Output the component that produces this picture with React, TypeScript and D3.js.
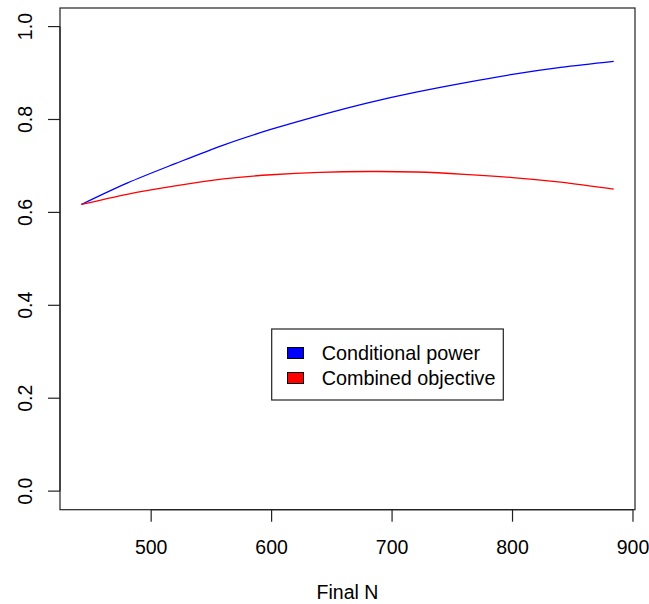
import React from "react";
import * as d3 from "d3";

// Final sample sizes evaluated
const finalN = [442, 480, 520, 560, 600, 640, 680, 720, 760, 800, 840, 884];
// Conditional power at each final N
const conditionalPower = [0.617, 0.663, 0.705, 0.745, 0.779, 0.809, 0.836, 0.859, 0.879, 0.897, 0.912, 0.925];
// Combined objective (power minus sample-size penalty)
const combinedObjective = [0.617, 0.639, 0.657, 0.672, 0.681, 0.686, 0.688, 0.687, 0.682, 0.675, 0.665, 0.65];

const xTicks = [500, 600, 700, 800, 900];
const yTicks = [0, 0.2, 0.4, 0.6, 0.8, 1.0];
const legendLabels = ["Conditional power", "Combined objective"];
const seriesColors = ["#0000ff", "#ff0000"];

const W = 649;
const H = 604;
const plot = { left: 60, right: 635, top: 8, bottom: 509.7 };
const FONT = "'Liberation Sans', Arial, Helvetica, sans-serif";
const FS = 19.5;

export default function App() {
  const xMin = d3.min(finalN)!;
  const xMax = d3.max(finalN)!;
  const xPad = (xMax - xMin) * 0.04;
  const x = d3.scaleLinear().domain([xMin - xPad, xMax + xPad]).range([plot.left, plot.right]);
  const y = d3.scaleLinear().domain([-0.04, 1.04]).range([plot.bottom, plot.top]);

  const line = d3
    .line<number>()
    .x((_, i) => x(finalN[i]))
    .y((d) => y(d))
    .curve(d3.curveNatural);

  const series = [conditionalPower, combinedObjective];

  const legend = { x: 271.7, y: 329, w: 231.6, h: 71 };

  return (
    <svg
      width={W}
      height={H}
      style={{ position: "absolute", left: 0, top: 0, background: "#fff", display: "block" }}
      fontFamily={FONT}
    >
      <rect x={0} y={0} width={W} height={H} fill="#fff" />
      {series.map((s, k) => (
        <path key={k} d={line(s) ?? ""} fill="none" stroke={seriesColors[k]} strokeWidth={1.3} />
      ))}
      <rect
        x={plot.left}
        y={plot.top}
        width={plot.right - plot.left}
        height={plot.bottom - plot.top}
        fill="none"
        stroke="#222"
        strokeWidth={1.2}
      />
      {/* x axis */}
      <line x1={x(xTicks[0])} x2={x(xTicks[xTicks.length - 1])} y1={plot.bottom} y2={plot.bottom} stroke="#222" strokeWidth={1.2} />
      {xTicks.map((t) => (
        <g key={t}>
          <line x1={x(t)} x2={x(t)} y1={plot.bottom} y2={plot.bottom + 12} stroke="#222" strokeWidth={1.2} />
          <text x={x(t)} y={554} textAnchor="middle" fontSize={FS} fill="#000">
            {t}
          </text>
        </g>
      ))}
      {/* y axis */}
      <line x1={plot.left} x2={plot.left} y1={y(yTicks[0])} y2={y(yTicks[yTicks.length - 1])} stroke="#222" strokeWidth={1.2} />
      {yTicks.map((t) => (
        <g key={t}>
          <line x1={plot.left - 12} x2={plot.left} y1={y(t)} y2={y(t)} stroke="#222" strokeWidth={1.2} />
          <text
            transform={`translate(32,${y(t)}) rotate(-90)`}
            textAnchor="middle"
            fontSize={FS}
            fill="#000"
          >
            {t.toFixed(1)}
          </text>
        </g>
      ))}
      <text x={(plot.left + plot.right) / 2} y={599} textAnchor="middle" fontSize={FS} fill="#000">
        Final N
      </text>
      {/* legend */}
      <rect x={legend.x} y={legend.y} width={legend.w} height={legend.h} fill="#fff" stroke="#222" strokeWidth={1.2} />
      {legendLabels.map((lab, i) => {
        const cy = legend.y + 24 + i * 25;
        return (
          <g key={lab}>
            <rect x={287.5} y={cy - 5.5} width={16} height={11} fill={seriesColors[i]} stroke="#000" strokeWidth={1} />
            <text x={321.7} y={cy + 7} fontSize={19.8} fill="#000">
              {lab}
            </text>
          </g>
        );
      })}
    </svg>
  );
}
